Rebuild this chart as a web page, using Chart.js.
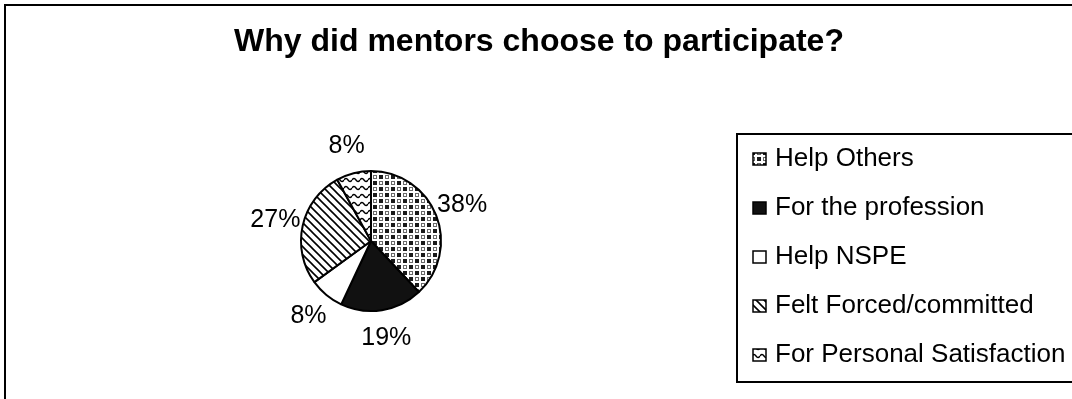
<!DOCTYPE html>
<html>
<head>
<meta charset="utf-8">
<script src="https://cdn.jsdelivr.net/npm/chart.js@4"></script>
<style>
  body { margin: 0; background: #fff; }
</style>
</head>
<body>
<canvas id="thecanvas" width="1072" height="399"></canvas>
<script>
// survey answers and their shares (percent)
const reasons = ['Help Others', 'For the profession', 'Help NSPE', 'Felt Forced/committed', 'For Personal Satisfaction'];
const percents = [38, 19, 8, 27, 8];
const charttitle = 'Why did mentors choose to participate?';

const fontname = '"Liberation Sans", Arial, sans-serif';
const ctx = document.getElementById('thecanvas').getContext('2d');

// little tiles used as fill patterns
function maketile(w, h, draw) {
    const c = document.createElement('canvas');
    c.width = w;
    c.height = h;
    const g = c.getContext('2d');
    g.fillStyle = '#fff';
    g.fillRect(0, 0, w, h);
    draw(g);
    return ctx.createPattern(c, 'repeat');
}

const checker = maketile(12, 12, g => {
    g.fillStyle = '#1a1a1a';
    g.fillRect(1, 1, 4, 4);
    g.fillRect(7, 7, 4, 4);
    g.fillStyle = '#6a6a6a';
    g.fillRect(7, 1, 4, 4);
    g.fillRect(1, 7, 4, 4);
    g.fillStyle = '#fff';
    g.fillRect(8, 2, 2, 2);
    g.fillRect(2, 8, 2, 2);
});

const diag = maketile(8, 8, g => {
    g.strokeStyle = '#000';
    g.lineWidth = 1.6;
    g.beginPath();
    g.moveTo(-2, -2); g.lineTo(10, 10);
    g.moveTo(-2, 6); g.lineTo(2, 10);
    g.moveTo(6, -2); g.lineTo(10, 2);
    g.stroke();
});

const wave = maketile(8, 8, g => {
    g.strokeStyle = '#000';
    g.lineWidth = 1.4;
    g.beginPath();
    g.moveTo(0, 4);
    g.quadraticCurveTo(2, 1, 4, 4);
    g.quadraticCurveTo(6, 7, 8, 4);
    g.stroke();
});

const fills = [checker, '#111', '#fff', diag, wave];

// white page, frame lines along top and left, and the heading
const frame = {
    id: 'frame',
    beforeDraw(chart) {
        const c = chart.ctx;
        c.save();
        c.fillStyle = '#fff';
        c.fillRect(0, 0, chart.width, chart.height);
        c.strokeStyle = '#000';
        c.lineWidth = 2;
        c.beginPath();
        c.moveTo(4, 5);
        c.lineTo(chart.width, 5);
        c.moveTo(5, 5);
        c.lineTo(5, chart.height);
        c.stroke();
        c.fillStyle = '#000';
        c.font = 'bold 32px ' + fontname;
        c.textAlign = 'center';
        c.textBaseline = 'middle';
        c.fillText(charttitle, chart.width / 2 + 3, 42);
        c.restore();
    }
};

// percent text outside each slice
const pctlabels = {
    id: 'pctlabels',
    afterDatasetsDraw(chart) {
        const c = chart.ctx;
        const meta = chart.getDatasetMeta(0);
        c.save();
        c.font = '25px ' + fontname;
        c.fillStyle = '#000';
        c.textAlign = 'center';
        c.textBaseline = 'middle';
        meta.data.forEach((arc, i) => {
            const p = arc.getProps(['x', 'y', 'startAngle', 'endAngle', 'outerRadius'], true);
            const mid = (p.startAngle + p.endAngle) / 2;
            const d = p.outerRadius + 28;
            c.fillText(percents[i] + '%', p.x + Math.cos(mid) * d, p.y + Math.sin(mid) * d);
        });
        c.restore();
    }
};

// boxed legend on the right
const boxlegend = {
    id: 'boxlegend',
    afterDraw(chart) {
        const c = chart.ctx;
        const bg = chart.data.datasets[0].backgroundColor;
        c.save();
        c.strokeStyle = '#000';
        c.lineWidth = 2;
        c.strokeRect(737, 134, 400, 248);
        c.font = '26px ' + fontname;
        c.textAlign = 'left';
        c.textBaseline = 'middle';
        chart.data.labels.forEach((name, i) => {
            const y = 159 + i * 49;
            c.fillStyle = bg[i];
            c.fillRect(753, y - 6, 13, 12);
            c.lineWidth = 1.5;
            c.strokeRect(753, y - 6, 13, 12);
            c.fillStyle = '#000';
            c.fillText(name, 775, y);
        });
        c.restore();
    }
};

new Chart(ctx, {
    type: 'pie',
    data: {
        labels: reasons,
        datasets: [{
            data: percents,
            backgroundColor: fills,
            borderColor: '#000',
            borderWidth: 2
        }]
    },
    options: {
        responsive: false,
        animation: false,
        radius: 70,
        layout: { padding: { top: 100, right: 330, bottom: 17, left: 0 } },
        plugins: {
            legend: { display: false },
            tooltip: { enabled: false },
            title: { display: false }
        }
    },
    plugins: [frame, pctlabels, boxlegend]
});
</script>
</body>
</html>
